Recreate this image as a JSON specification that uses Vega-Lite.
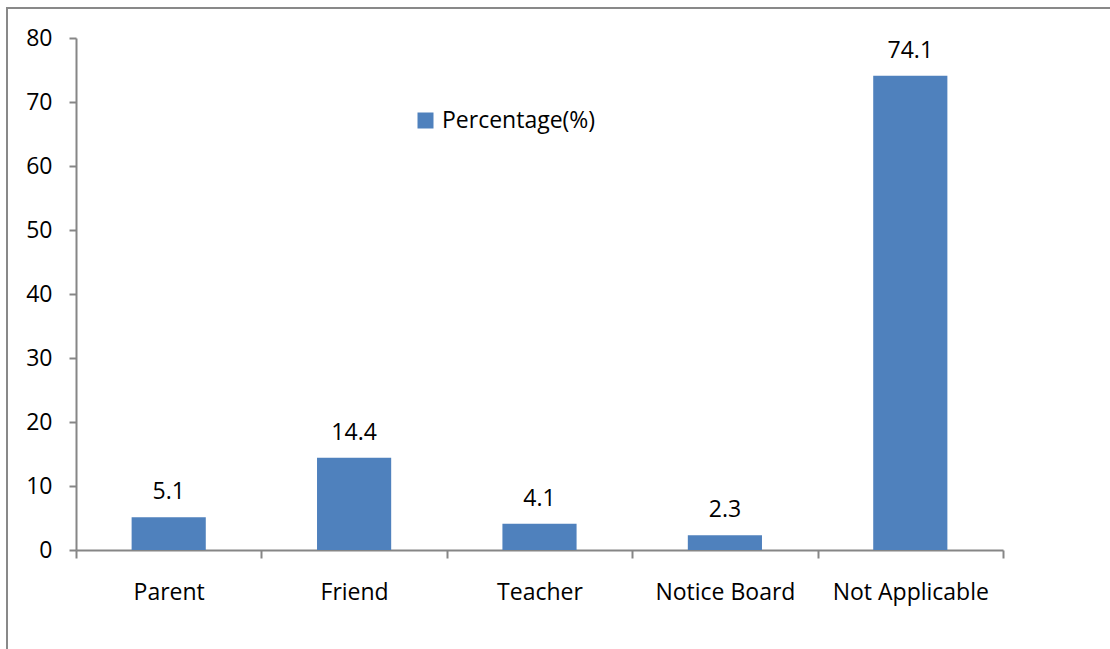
{
  "$schema": "https://vega.github.io/schema/vega-lite/v6.json",
  "width": 1106,
  "height": 645,
  "autosize": {"type": "none"},
  "padding": {"left": 7, "top": 8, "right": 0, "bottom": 0},
  "background": "white",
  "config": {
    "view": {"stroke": "#898989", "strokeWidth": 2},
    "font": "Open Sans",
    "axis": {"grid": false, "domainColor": "#868686", "tickColor": "#868686", "domainWidth": 2, "tickWidth": 2, "labelColor": "#000000", "labelFont": "Open Sans", "labelFontSize": 23, "title": null}
  },
  "data": {
    "values": [
      {"source": "Parent", "value": 5.1, "series": "Percentage(%)"},
      {"source": "Friend", "value": 14.4, "series": "Percentage(%)"},
      {"source": "Teacher", "value": 4.1, "series": "Percentage(%)"},
      {"source": "Notice Board", "value": 2.3, "series": "Percentage(%)"},
      {"source": "Not Applicable", "value": 74.1, "series": "Percentage(%)"}
    ]
  },
  "encoding": {
    "x": {
      "field": "source", "type": "nominal", "sort": null,
      "scale": {"range": [69, 996], "paddingInner": 0, "paddingOuter": 0},
      "axis": {"orient": "bottom", "offset": -103, "labelAngle": 0, "tickBand": "extent", "tickSize": 8, "labelPadding": 23}
    },
    "y": {
      "field": "value", "type": "quantitative",
      "scale": {"domain": [0, 80], "range": [542, 30], "nice": false},
      "axis": {"orient": "left", "offset": -69, "values": [0, 10, 20, 30, 40, 50, 60, 70, 80], "tickSize": 7, "labelPadding": 17}
    }
  },
  "layer": [
    {
      "mark": {"type": "bar", "width": {"band": 0.4}},
      "encoding": {
        "color": {
          "field": "series", "type": "nominal",
          "scale": {"range": ["#4F81BD"]},
          "legend": {"title": null, "orient": "none", "legendX": 407, "legendY": 101, "padding": 0, "symbolType": "square", "symbolSize": 256, "symbolStrokeWidth": 0, "labelFont": "Open Sans", "labelFontSize": 23, "labelColor": "#000000", "labelOffset": 5, "labelLimit": 400}
        }
      }
    },
    {
      "mark": {"type": "text", "baseline": "alphabetic", "dy": -18, "fontSize": 23, "font": "Open Sans", "color": "#000000"},
      "encoding": {"text": {"field": "value", "type": "quantitative"}}
    }
  ]
}
